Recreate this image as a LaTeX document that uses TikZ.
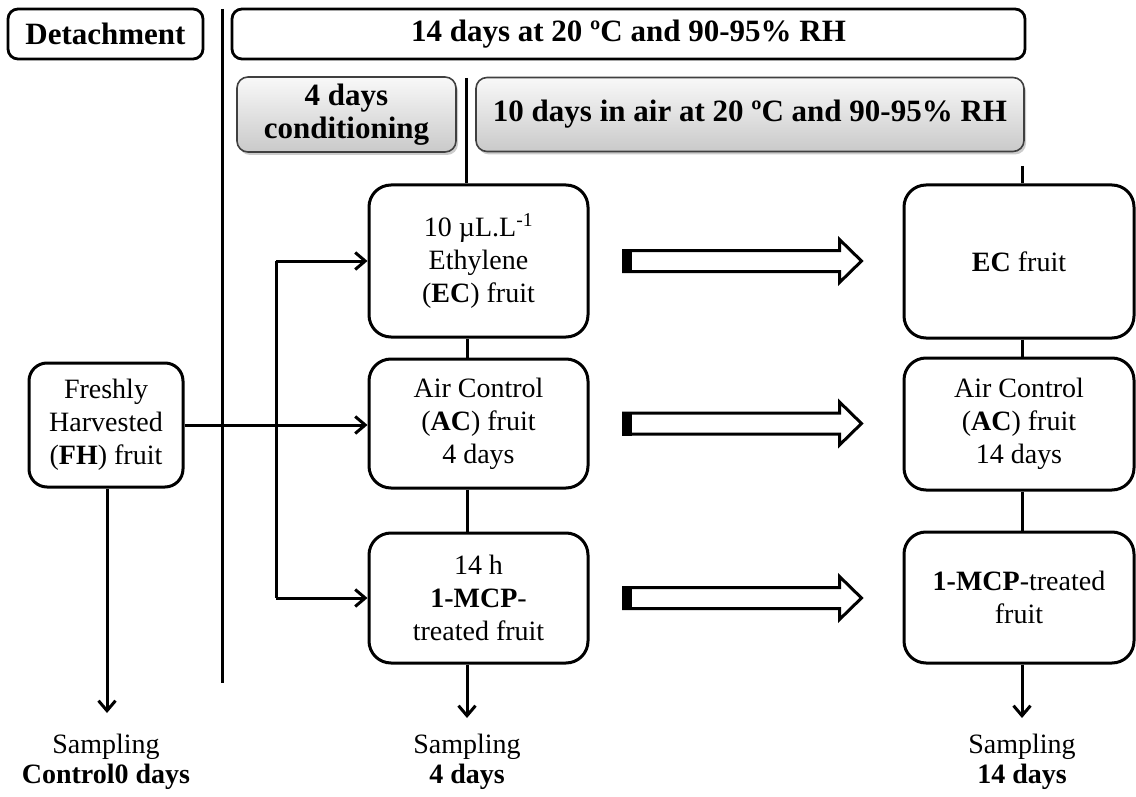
\documentclass[tikz,border=0pt]{standalone}
\usepackage{fontspec}
\setmainfont{Liberation Serif}
\usetikzlibrary{arrows.meta,shadows}
\begin{document}
\begin{tikzpicture}[x=1pt,y=-1pt,
  txt/.style={font=\fontsize{28pt}{33pt}\selectfont, align=center, inner sep=0pt},
  hdr/.style={font=\fontsize{31pt}{33pt}\selectfont\bfseries, align=center, inner sep=0pt},
  box/.style={txt, draw, line width=3pt, rounded corners=22pt},
  hbox/.style={hdr, draw, line width=2.8pt, rounded corners=10pt},
  gbox/.style={hdr, draw=black!75, line width=1.6pt, rounded corners=11pt,
    top color=gray!5, bottom color=gray!42,
    drop shadow={shadow xshift=2pt, shadow yshift=-3pt, opacity=0.4, fill=gray}},
  ln/.style={line width=3pt},
  arr/.style={ln, -{Straight Barb[length=10pt,width=17pt,line width=3pt]}},
  hollow/.pic={
    \draw[line width=3pt, fill=white, line join=miter]
      (0,-10.5) -- (216,-10.5) -- (216,-21.5) -- (238,0) -- (216,21.5) -- (216,10.5) -- (0,10.5) -- cycle;
    \fill (-1.5,-12) rectangle (8,12);
  }
]
\useasboundingbox (0,0) rectangle (1136,797);

% headers
\node[hbox, minimum width=195pt, minimum height=50pt] (det) at (105.5,34) {Detachment};
\node[hbox, minimum width=793pt, minimum height=50pt] (top) at (628.5,34) {14 days at 20 ºC and 90-95\% RH};
\node[gbox, minimum width=219pt, minimum height=75pt] (g1) at (346.5,114.5) {4 days\\conditioning};
\node[gbox, minimum width=548pt, minimum height=74pt] (g2) at (750,114.5) {10 days in air at 20 ºC and 90-95\% RH};

% boxes
\node[box, rounded corners=18pt, minimum width=154pt, minimum height=124pt] (fh) at (106,425) {Freshly\\Harvested\\(\textbf{FH}) fruit};
\node[box, minimum width=219pt, minimum height=152pt] (ec) at (478.5,261) {10 µL.L\textsuperscript{-1}\\Ethylene\\(\textbf{EC}) fruit};
\node[box, minimum width=219pt, minimum height=129pt] (ac) at (478.5,423.5) {Air Control\\(\textbf{AC}) fruit\\4 days};
\node[box, minimum width=219pt, minimum height=130pt] (mcp) at (478.5,598) {14 h\\\textbf{1-MCP}-\\treated fruit};
\node[box, minimum width=230pt, minimum height=153pt] (ecr) at (1019,261.5) {\textbf{EC} fruit};
\node[box, minimum width=230pt, minimum height=132pt] (acr) at (1019,424) {Air Control\\(\textbf{AC}) fruit\\14 days};
\node[box, minimum width=230pt, minimum height=131pt] (mcpr) at (1019,597.5) {\textbf{1-MCP}-treated\\fruit};

% sampling labels
\node[txt, font=\fontsize{28pt}{30pt}\selectfont] (s0) at (106,762) {Sampling\\\textbf{Control0 days}};
\node[txt, font=\fontsize{28pt}{30pt}\selectfont] (s4) at (467,762) {Sampling\\\textbf{4 days}};
\node[txt, font=\fontsize{28pt}{30pt}\selectfont] (s14) at (1022,762) {Sampling\\\textbf{14 days}};

% coordinates
\coordinate (vtop) at (222,9);
\coordinate (vbot) at (222,683);
\coordinate (mtop) at (466,78);
\coordinate (rtop) at (1022,166);
\coordinate (br) at (276,0);
\coordinate (fhend) at (107,713);
\coordinate (mend) at (467,718);
\coordinate (rend) at (1022,718);

% lines
\draw[ln] (vtop) -- (vbot);
\draw[ln] (mtop) -- (mtop |- ec.north);
\draw[ln] (rtop) -- (rtop |- ecr.north);
\draw[ln] (ec.south -| mend) -- (ac.north -| mend);
\draw[ln] (ac.south -| mend) -- (mcp.north -| mend);
\draw[ln] (ecr.south -| rend) -- (acr.north -| rend);
\draw[ln] (acr.south -| rend) -- (mcpr.north -| rend);
\draw[arr] (mcp.south -| mend) -- (mend);
\draw[arr] (mcpr.south -| rend) -- (rend);
\draw[arr] (fh.south -| fhend) -- (fhend);

% branches
\draw[arr] (fh.east) -- (fh.east -| ac.west);
\draw[ln] (br |- ec.west) -- (br |- mcp.west);
\draw[arr] (br |- ec.west) -- (ec.west);
\draw[arr] (br |- mcp.west) -- (mcp.west);

% hollow arrows
\pic at ([xshift=34pt]ec.east) {hollow};
\pic at ([xshift=34pt]ac.east) {hollow};
\pic at ([xshift=34pt]mcp.east) {hollow};
\end{tikzpicture}
\end{document}
